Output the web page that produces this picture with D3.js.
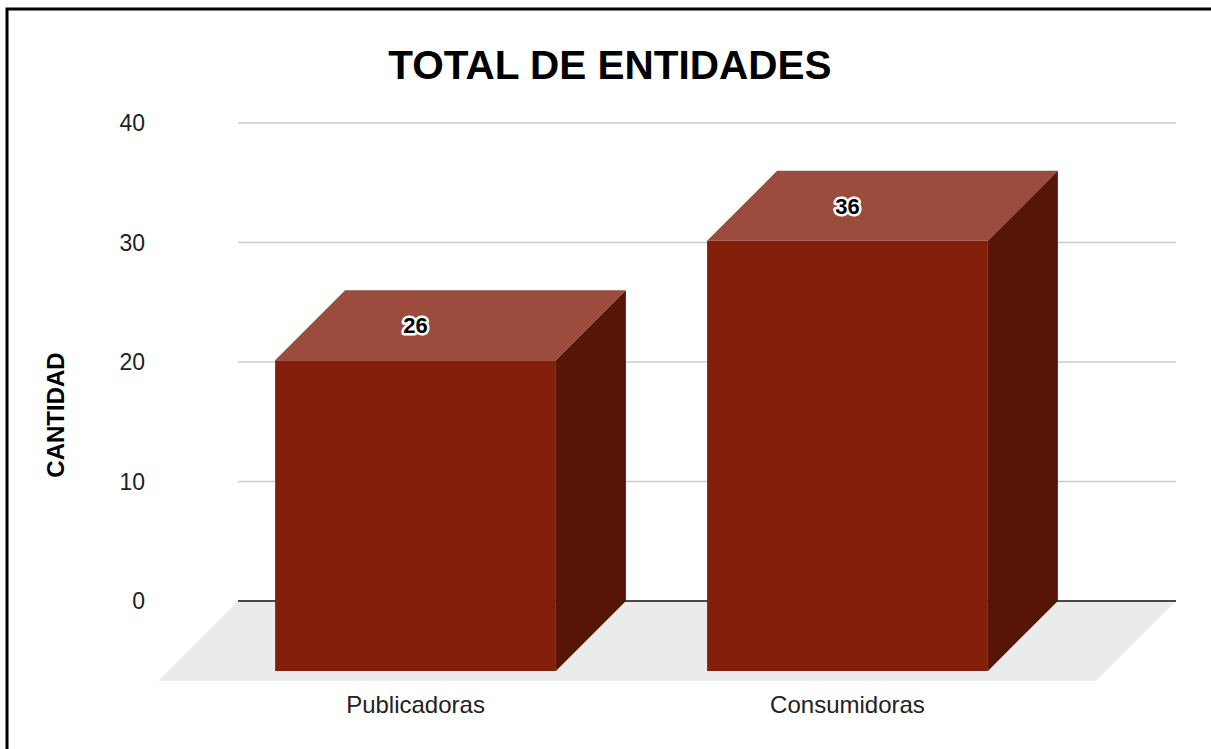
<!DOCTYPE html>
<html>
<head>
<meta charset="utf-8">
<script src="https://cdn.jsdelivr.net/npm/d3@7"></script>
<style>
  body { margin: 0; background: #fff; }
  text { font-family: "Liberation Sans", Arial, sans-serif; }
</style>
</head>
<body>
<div id="canvas"></div>
<script>
const categories = ["Publicadoras", "Consumidoras"];
const values = [26, 36];
const yTicks = [0, 10, 20, 30, 40];
const title = "TOTAL DE ENTIDADES";
const yTitle = "CANTIDAD";

const width = 1211;
const height = 749;
const depth = 70;      // bar depth offset
const floorDepth = 80;

const svg = d3.select("#canvas").append("svg")
    .attr("width", width)
    .attr("height", height);

// frame
svg.append("rect")
    .attr("x", 7).attr("y", 9)
    .attr("width", 1230).attr("height", 780)
    .attr("fill", "none")
    .attr("stroke", "#000")
    .attr("stroke-width", 3);

const x = d3.scaleBand()
    .domain(categories)
    .range([238, 1165])
    .paddingInner(0.35)
    .paddingOuter(0.248);

const y = d3.scaleLinear()
    .domain([0, 40])
    .range([601, 123]);

const left = 238, right = 1176;

// floor
svg.append("polygon")
    .attr("points", [
        [left, y(0)], [right, y(0)],
        [right - floorDepth, y(0) + floorDepth], [left - floorDepth, y(0) + floorDepth]
    ].map(p => p.join(",")).join(" "))
    .attr("fill", "#ebebeb");

// gridlines
svg.append("g").selectAll("line")
    .data(yTicks.filter(t => t !== 0))
    .join("line")
    .attr("x1", left).attr("x2", right)
    .attr("y1", d => y(d)).attr("y2", d => y(d))
    .attr("stroke", "#cccccc")
    .attr("stroke-width", 1.5);

svg.append("line")
    .attr("x1", left).attr("x2", right)
    .attr("y1", y(0)).attr("y2", y(0))
    .attr("stroke", "#4a4a4a")
    .attr("stroke-width", 2);

// tick labels
svg.append("g").selectAll("text")
    .data(yTicks)
    .join("text")
    .attr("x", 145)
    .attr("y", d => y(d))
    .attr("dy", "0.35em")
    .attr("text-anchor", "end")
    .attr("font-size", 23)
    .attr("fill", "#222")
    .text(d => d);

// bars
const bars = svg.append("g").selectAll("g")
    .data(categories.map((c, i) => ({ name: c, value: values[i] })))
    .join("g");

// top face
bars.append("polygon")
    .attr("points", d => {
        const x0 = x(d.name), x1 = x0 + x.bandwidth(), yt = y(d.value);
        return [[x0, yt], [x1, yt], [x1 - depth, yt + depth], [x0 - depth, yt + depth]]
            .map(p => p.join(",")).join(" ");
    })
    .attr("fill", "#9b4c3d");

// side face
bars.append("polygon")
    .attr("points", d => {
        const x1 = x(d.name) + x.bandwidth(), yt = y(d.value), yb = y(0);
        return [[x1, yt], [x1, yb], [x1 - depth, yb + depth], [x1 - depth, yt + depth]]
            .map(p => p.join(",")).join(" ");
    })
    .attr("fill", "#571507");

// front face
bars.append("rect")
    .attr("x", d => x(d.name) - depth)
    .attr("y", d => y(d.value) + depth)
    .attr("width", x.bandwidth())
    .attr("height", d => y(0) - y(d.value))
    .attr("fill", "#831e0b");

// value labels
bars.append("text")
    .attr("x", d => x(d.name) - depth + x.bandwidth() / 2)
    .attr("y", d => y(d.value) + depth / 2)
    .attr("dy", "0.35em")
    .attr("text-anchor", "middle")
    .attr("font-size", 22)
    .attr("font-weight", "bold")
    .attr("fill", "#000")
    .attr("stroke", "#fff")
    .attr("stroke-width", 5)
    .attr("stroke-linejoin", "round")
    .attr("paint-order", "stroke")
    .text(d => d.value);

// category labels
svg.append("g").selectAll("text")
    .data(categories)
    .join("text")
    .attr("x", d => x(d) - depth + x.bandwidth() / 2)
    .attr("y", 713)
    .attr("text-anchor", "middle")
    .attr("font-size", 24)
    .attr("fill", "#222")
    .text(d => d);

// title
svg.append("text")
    .attr("x", 610)
    .attr("y", 79)
    .attr("text-anchor", "middle")
    .attr("font-size", 40.5)
    .attr("font-weight", "bold")
    .text(title);

// y axis title
svg.append("text")
    .attr("transform", "translate(64,415) rotate(-90)")
    .attr("text-anchor", "middle")
    .attr("font-size", 24)
    .attr("font-weight", "bold")
    .text(yTitle);
</script>
</body>
</html>
